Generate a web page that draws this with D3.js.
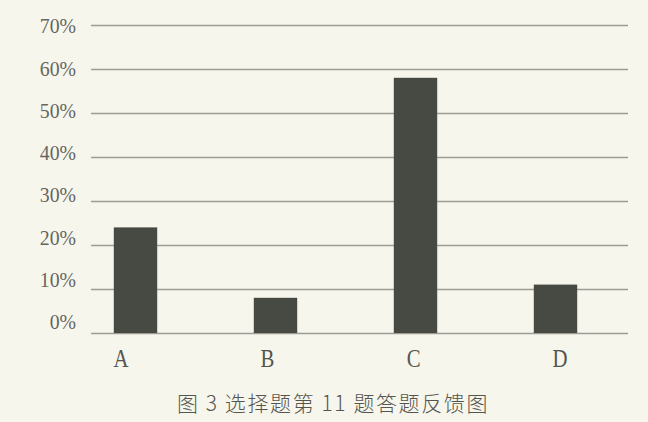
<!DOCTYPE html>
<html>
<head>
<meta charset="utf-8">
<script src="https://cdn.jsdelivr.net/npm/d3@7"></script>
<style>
  html, body { margin: 0; padding: 0; background: #f7f6ec; }
  svg { display: block; }
</style>
</head>
<body>
<div id="chart"></div>
<script>
// Answer feedback for multiple-choice question 11
const categories = ["A", "B", "C", "D"];
const shares = [0.24, 0.08, 0.58, 0.11];
const tickValues = [0, 0.1, 0.2, 0.3, 0.4, 0.5, 0.6, 0.7];
const tickLabels = ["0%", "10%", "20%", "30%", "40%", "50%", "60%", "70%"];
const caption = "图 3 选择题第 11 题答题反馈图";

const W = 648, H = 422;
const svg = d3.select("#chart").append("svg")
  .attr("width", W).attr("height", H);

svg.append("rect").attr("width", W).attr("height", H).attr("fill", "#f7f6ec");

// value scale for gridlines and bars
const y = d3.scaleLinear().domain([0, 0.7]).range([333, 25]);
// tick labels sit on a slightly tighter ladder than the gridlines
const yLabel = d3.scaleLinear().domain([0, 0.7]).range([322, 26]);

const x = d3.scaleBand().domain(categories)
  .range([65.5, 625.5]).paddingInner(0.69).paddingOuter(0.345);
// category labels are spread a little wider than the bars
const xLabel = d3.scalePoint().domain(categories).range([121, 560]);

// gridlines
const grid = d3.axisRight(y).tickValues(tickValues).tickSize(628 - 91).tickFormat("");
svg.append("g").attr("transform", "translate(91,0)").call(grid)
  .call(g => g.select(".domain").remove())
  .call(g => g.selectAll(".tick line").attr("stroke", "#9d9d96").attr("stroke-width", 1.5));

// y tick labels (narrowed serif)
svg.append("g").attr("transform", "translate(76,0) scale(0.9,1)")
  .selectAll("text").data(tickValues).join("text")
  .attr("x", 0).attr("y", d => yLabel(d))
  .attr("text-anchor", "end").attr("dominant-baseline", "central")
  .attr("font-family", "'Liberation Serif', 'DejaVu Serif', serif")
  .attr("font-size", 22).attr("fill", "#66665f")
  .text((d, i) => tickLabels[i]);

// bars
svg.append("g").selectAll("rect").data(categories).join("rect")
  .attr("x", d => x(d)).attr("width", x.bandwidth())
  .attr("y", (d, i) => y(shares[i]))
  .attr("height", (d, i) => y(0) - y(shares[i]))
  .attr("fill", "#474943");

// category labels (narrowed serif)
svg.append("g").selectAll("text").data(categories).join("text")
  .attr("x", 0).attr("y", 0)
  .attr("text-anchor", "middle").attr("dominant-baseline", "central")
  .attr("font-family", "'Liberation Serif', 'DejaVu Serif', serif")
  .attr("font-size", 26).attr("fill", "#55554f")
  .attr("transform", d => `translate(${xLabel(d)},358) scale(0.8,1)`)
  .text(d => d);

// caption
svg.append("text")
  .attr("x", 333).attr("y", 402)
  .attr("text-anchor", "middle").attr("dominant-baseline", "central")
  .attr("font-family", "'Noto Sans CJK SC', sans-serif")
  .attr("font-size", 21).attr("font-weight", 300).attr("letter-spacing", 1.6)
  .attr("fill", "#55554f")
  .text(caption);
</script>
</body>
</html>
